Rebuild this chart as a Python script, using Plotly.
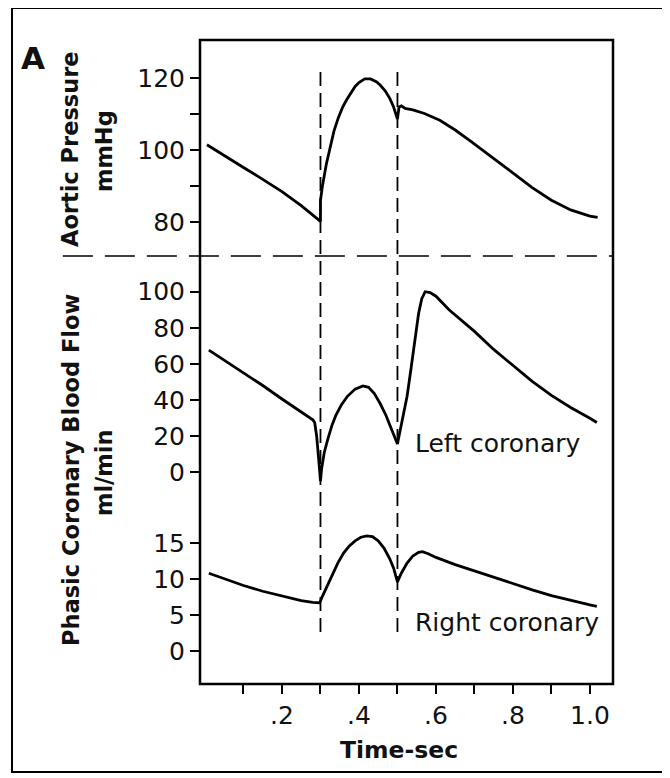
import plotly.graph_objects as go

# ---- data ----
t_aortic = [0.005, 0.05, 0.1, 0.15, 0.2, 0.25, 0.28, 0.3, 0.3, 0.305, 0.315, 0.325, 0.335, 0.346, 0.357,
            0.368, 0.38, 0.39, 0.4, 0.415, 0.43, 0.445, 0.455, 0.468, 0.48, 0.49, 0.5, 0.504, 0.51, 0.52,
            0.54, 0.57, 0.61, 0.65, 0.689, 0.75, 0.8, 0.85, 0.9, 0.95, 1.0, 1.02]
p_aortic = [101.5, 98.6, 95.2, 91.9, 88.5, 84.6, 82.0, 80.2, 86.0, 90.0, 96.0, 101.0, 105.3, 108.9, 111.8,
            114.0, 116.2, 117.7, 118.8, 119.8, 119.8, 119.0, 118.1, 116.5, 114.4, 112.0, 108.6, 112.0, 112.3, 111.6,
            111.2, 110.2, 108.3, 105.6, 102.6, 97.6, 93.6, 89.6, 86.1, 83.4, 81.7, 81.3]

t_left = [0.01, 0.05, 0.1, 0.15, 0.2, 0.25, 0.28, 0.285, 0.29, 0.295, 0.3, 0.303, 0.31, 0.32, 0.33,
          0.34, 0.355, 0.37, 0.39, 0.41, 0.425, 0.44, 0.455, 0.47, 0.485, 0.5, 0.505, 0.515, 0.525, 0.535,
          0.545, 0.555, 0.563, 0.572, 0.585, 0.6, 0.634, 0.7, 0.75, 0.8, 0.85, 0.9, 0.95, 1.0, 1.018]
v_left = [67.6, 62.0, 55.0, 48.0, 40.5, 33.5, 29.0, 27.5, 20.0, 8.0, -5.0, 2.0, 11.0, 19.0, 26.0,
          31.5, 37.5, 42.0, 46.0, 47.8, 47.0, 43.5, 38.0, 31.5, 23.5, 15.5, 21.0, 31.0, 42.0, 57.0,
          72.0, 88.0, 96.0, 100.0, 99.5, 97.5, 90.0, 78.0, 68.0, 59.0, 50.3, 42.5, 35.8, 29.8, 27.5]

t_right = [0.01, 0.05, 0.1, 0.15, 0.2, 0.25, 0.28, 0.298, 0.305, 0.315, 0.33, 0.345, 0.36, 0.375, 0.39,
           0.405, 0.42, 0.435, 0.45, 0.465, 0.48, 0.49, 0.5, 0.51, 0.525, 0.54, 0.555, 0.565, 0.58, 0.6,
           0.65, 0.7, 0.75, 0.8, 0.85, 0.9, 0.95, 1.0, 1.018]
v_right = [10.8, 10.0, 9.1, 8.3, 7.6, 7.0, 6.75, 6.7, 7.6, 8.8, 10.6, 12.2, 13.6, 14.6, 15.3,
           15.8, 16.0, 15.9, 15.3, 14.3, 12.8, 11.5, 9.6, 10.8, 12.2, 13.2, 13.7, 13.8, 13.5, 13.0,
           12.0, 11.1, 10.2, 9.3, 8.5, 7.7, 7.0, 6.4, 6.2]

x_ticks = [0.1, 0.2, 0.3, 0.4, 0.5, 0.6, 0.7, 0.8, 0.9, 1.0]
x_ticktext = ["", ".2", "", ".4", "", ".6", "", ".8", "", "1.0"]
p_ticks = [80, 90, 100, 110, 120]
p_ticktext = ["80", "", "100", "", "120"]
l_ticks = [0, 20, 40, 60, 80, 100]
r_ticks = [0, 5, 10, 15]
event_times = [0.3, 0.5]

FONT = "DejaVu Sans, Liberation Sans, Arial, sans-serif"
line = dict(color="black", width=2.8)

fig = go.Figure()
fig.add_trace(go.Scatter(x=t_aortic, y=p_aortic, mode="lines", line=line, yaxis="y"))
fig.add_trace(go.Scatter(x=t_left, y=v_left, mode="lines", line=line, yaxis="y2"))
fig.add_trace(go.Scatter(x=t_right, y=v_right, mode="lines", line=line, yaxis="y3"))

yax_common = dict(showgrid=False, zeroline=False, showline=False, ticks="outside",
                  ticklen=9, tickwidth=2, tickcolor="black", anchor="x",
                  tickfont=dict(family=FONT, size=25, color="#111"), fixedrange=True)

fig.update_layout(
    width=662, height=770,
    margin=dict(l=192, r=57, t=32, b=94, autoexpand=False),
    paper_bgcolor="white", plot_bgcolor="white",
    showlegend=False,
    xaxis=dict(range=[-0.013, 1.06], showgrid=False, zeroline=False, showline=False, anchor="y3",
               ticks="outside", ticklen=9, tickwidth=2, tickcolor="black",
               tickvals=x_ticks, ticktext=x_ticktext,
               tickfont=dict(family=FONT, size=25, color="#111")),
    yaxis=dict(domain=[0.6646, 1.0], range=[70.6, 130.6], tickvals=p_ticks, ticktext=p_ticktext, **yax_common),
    yaxis2=dict(domain=[0.2857, 0.6646], range=[-15.5, 119.8], tickvals=l_ticks, **yax_common),
    yaxis3=dict(domain=[0.0, 0.2857], range=[-4.58, 20.97], tickvals=r_ticks, **yax_common),
)

shapes = []
# plot box
shapes.append(dict(type="rect", xref="paper", yref="paper", x0=0, x1=1, y0=0, y1=1,
                   line=dict(color="black", width=2.5)))
# outer frame
shapes.append(dict(type="rect", xref="paper", yref="paper", x0=-0.4552, x1=1.1211, y0=-0.1366, y1=1.0497,
                   line=dict(color="black", width=2)))
# horizontal dashed separator
shapes.append(dict(type="line", xref="paper", yref="paper", x0=-0.332, x1=1.0, y0=0.6646, y1=0.6646,
                   line=dict(color="black", width=1.6, dash="30px,12px")))
# vertical dashed event lines
for t in event_times:
    shapes.append(dict(type="line", xref="x", yref="paper", x0=t, x1=t, y0=0.0807, y1=0.958,
                       line=dict(color="black", width=1.8, dash="14px,7px")))
fig.update_layout(shapes=shapes)

def note(text, x, y, size, xref="paper", yref="paper", angle=0, xanchor="center"):
    return dict(text=text, x=x, y=y, xref=xref, yref=yref, showarrow=False, textangle=angle,
                xanchor=xanchor, yanchor="middle", font=dict(family=FONT, size=size, color="#111"))

ann = [
    note("<b>A</b>", -0.4044, 0.972, 31),
    note("<b>Aortic Pressure</b>", -0.3148, 0.8307, 22.5, angle=-90),
    note("<b>mmHg</b>", -0.2324, 0.8276, 22.5, angle=-90),
    note("<b>Phasic Coronary Blood Flow</b>", -0.3123, 0.3323, 22.5, angle=-90),
    note("<b>ml/min</b>", -0.2324, 0.3276, 22.5, angle=-90),
    note("<b>Time-sec</b>", 0.4818, -0.1025, 23.5),
    note("Left coronary", 0.54, 16, 25, xref="x", yref="y2", xanchor="left"),
    note("Right coronary", 0.54, 4.0, 25, xref="x", yref="y3", xanchor="left"),
]
fig.update_layout(annotations=ann)

fig.write_html("out.html")
